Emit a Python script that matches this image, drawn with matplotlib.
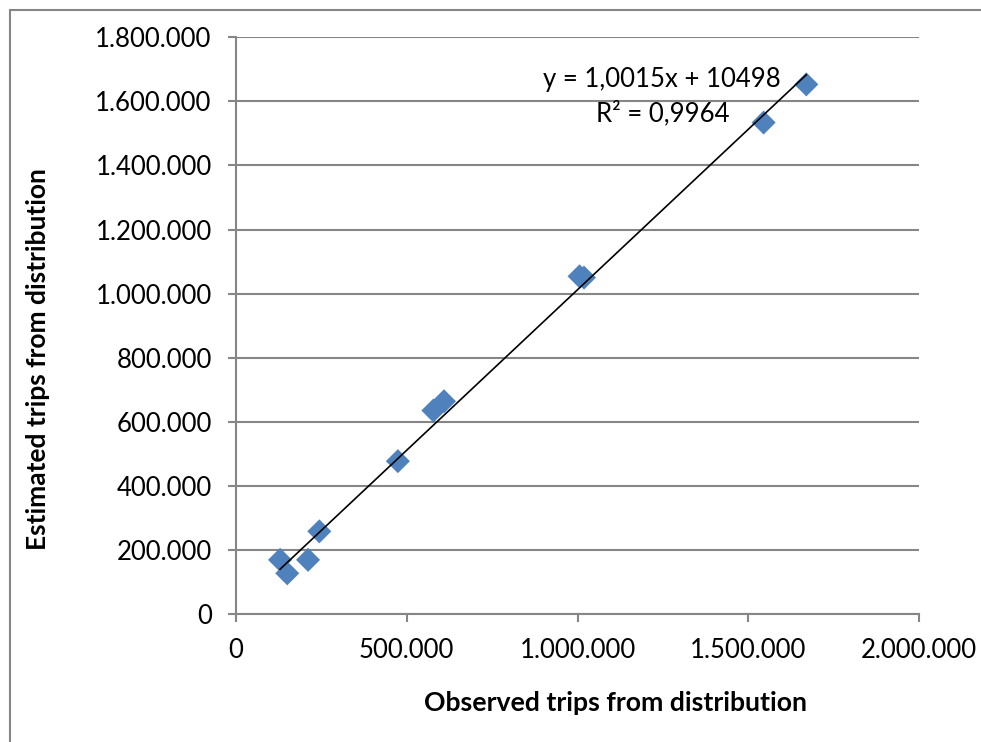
import numpy as np
import matplotlib
matplotlib.use("Agg")
import matplotlib.pyplot as plt
from matplotlib.ticker import FuncFormatter
from matplotlib.patches import Rectangle

# Datos
observed = [129000, 150000, 211000, 244000, 474000, 578000, 609000,
            1006000, 1019000, 1545000, 1670000]
estimated = [169000, 127000, 169000, 258000, 477000, 635000, 664000,
             1054000, 1050000, 1534000, 1653000]
slope = 1.0015
intercept = 10498
r2 = 0.9964

xticks = [0, 500000, 1000000, 1500000, 2000000]
yticks = list(range(0, 1800001, 200000))

plt.rcParams['font.family'] = ['Lato', 'DejaVu Sans']

fig = plt.figure(figsize=(9.81, 7.42), dpi=100)
ax = fig.add_axes([236 / 981, 1 - 614 / 742, 683 / 981, 576.7 / 742])

grid_col = '#868686'

ax.scatter(observed, estimated, marker='D', s=150, color='#4F81BD',
           edgecolors='none', zorder=3)

xs = np.array([min(observed), max(observed)])
ax.plot(xs, slope * xs + intercept, color='black', lw=1.2, zorder=4)

ax.set_xlim(0, 2000000)
ax.set_ylim(0, 1800000)
ax.set_xticks(xticks)
ax.set_yticks(yticks)


def miles(v, pos):
    return f"{int(v):,}".replace(",", ".")


ax.xaxis.set_major_formatter(FuncFormatter(miles))
ax.yaxis.set_major_formatter(FuncFormatter(miles))

ax.grid(axis='y', color=grid_col, lw=1.5)
ax.set_axisbelow(True)
for side in ['top', 'right']:
    ax.spines[side].set_visible(False)
for side in ['left', 'bottom']:
    ax.spines[side].set_color(grid_col)
    ax.spines[side].set_linewidth(1.5)

ax.tick_params(axis='both', direction='out', length=5.5, width=1.5,
               color=grid_col, labelsize=18.5, labelcolor='black')
ax.tick_params(axis='y', pad=12)
ax.tick_params(axis='x', pad=12)

fig.text(615 / 981, 1 - 703 / 742, 'Observed trips from distribution',
         ha='center', va='center', fontsize=19.2, fontweight='bold')
fig.text(38 / 981, 1 - 359 / 742, 'Estimated trips from distribution',
         ha='center', va='center', rotation=90, fontsize=19,
         fontweight='bold')

eq = f"y = {slope:.4f}x + {intercept}".replace(".", ",")
fig.text(662 / 981, 1 - 80 / 742, eq, ha='center', va='center',
         fontsize=18.5)
fig.text(663 / 981, 1 - 113 / 742, f"R² = {r2:.4f}".replace(".", ","),
         ha='center', va='center', fontsize=18.5)

# marco exterior
fig.patches.append(Rectangle((10 / 981, -0.1), 1.2, 1.1 - 10 / 742,
                             transform=fig.transFigure, fill=False,
                             edgecolor=grid_col, lw=1.5))

fig.savefig('out.png', dpi=100)
